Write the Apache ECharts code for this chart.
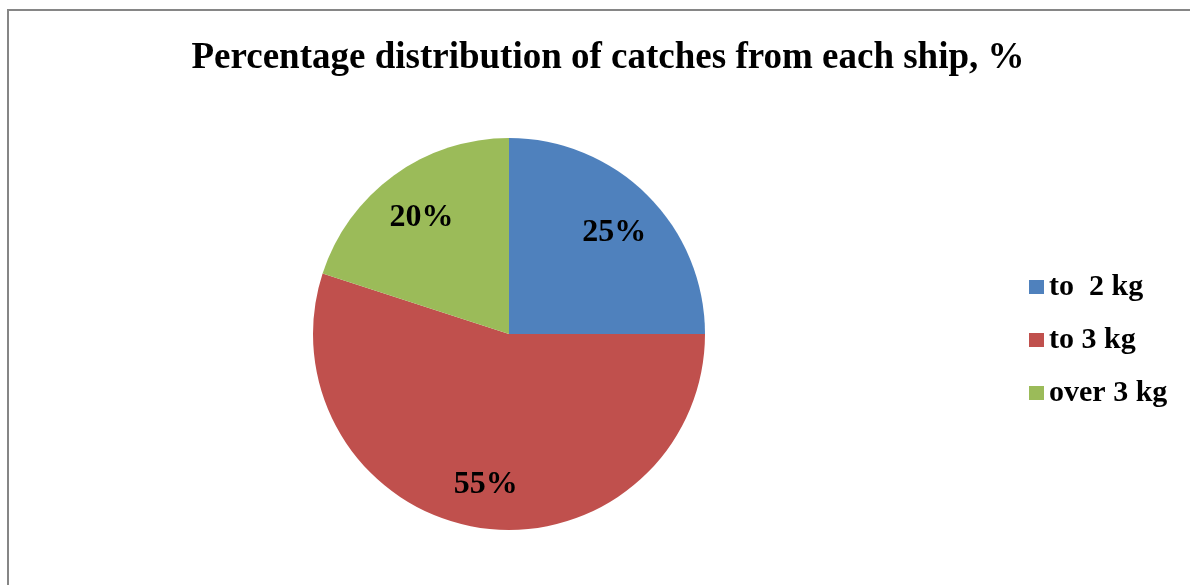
<!DOCTYPE html>
<html>
<head>
<meta charset="utf-8">
<script src="https://cdn.jsdelivr.net/npm/echarts@6/dist/echarts.min.js"></script>
<style>
  html, body { margin: 0; padding: 0; background: #fff; }
  #chart { width: 1190px; height: 585px; }
</style>
</head>
<body>
<div id="chart"></div>
<script>
// 数据
var categories = ["to  2 kg", "to 3 kg", "over 3 kg"];
var values = [25, 55, 20];
var colors = ["#4F81BD", "#C0504D", "#9BBB59"];

var serif = '"Liberation Serif", "Times New Roman", serif';

var pieData = categories.map(function (name, i) {
  return { name: name, value: values[i], itemStyle: { color: colors[i] } };
});

var myEchart = echarts.init(document.getElementById("chart"));
myEchart.setOption({
  animation: false,
  backgroundColor: "#fff",
  title: {
    text: "Percentage distribution of catches from each ship, %",
    left: 603,
    textAlign: "center",
    top: 35,
    textStyle: { fontFamily: serif, fontSize: 37, fontWeight: "bold", color: "#000" }
  },
  legend: {
    orient: "vertical",
    left: 1024,
    top: 267,
    itemWidth: 15,
    itemHeight: 14,
    itemGap: 23,
    icon: "rect",
    textStyle: { fontFamily: serif, fontSize: 30, lineHeight: 28, fontWeight: "bold", color: "#000" },
    data: categories
  },
  graphic: [{
    type: "polyline",
    shape: { points: [[8, 600], [8, 10], [1200, 10]] },
    style: { stroke: "#868686", lineWidth: 2, fill: null }
  }],
  series: [
    {
      type: "pie",
      center: [509, 334],
      radius: 196,
      startAngle: 90,
      clockwise: true,
      label: { show: false },
      labelLine: { show: false },
      itemStyle: { borderWidth: 0 },
      data: pieData
    },
    {
      // 透明层，只用来放百分比标签
      type: "pie",
      center: [509, 334],
      radius: [96, 196],
      startAngle: 90,
      clockwise: true,
      silent: true,
      legendHoverLink: false,
      label: {
        show: true,
        position: "inside",
        formatter: "{c}%",
        offset: [0, 4],
        fontFamily: serif,
        fontSize: 32,
        fontWeight: "bold",
        color: "#000"
      },
      labelLine: { show: false },
      itemStyle: { color: "transparent", borderWidth: 0 },
      data: categories.map(function (name, i) { return { name: name + " ", value: values[i] }; })
    }
  ]
});
</script>
</body>
</html>
